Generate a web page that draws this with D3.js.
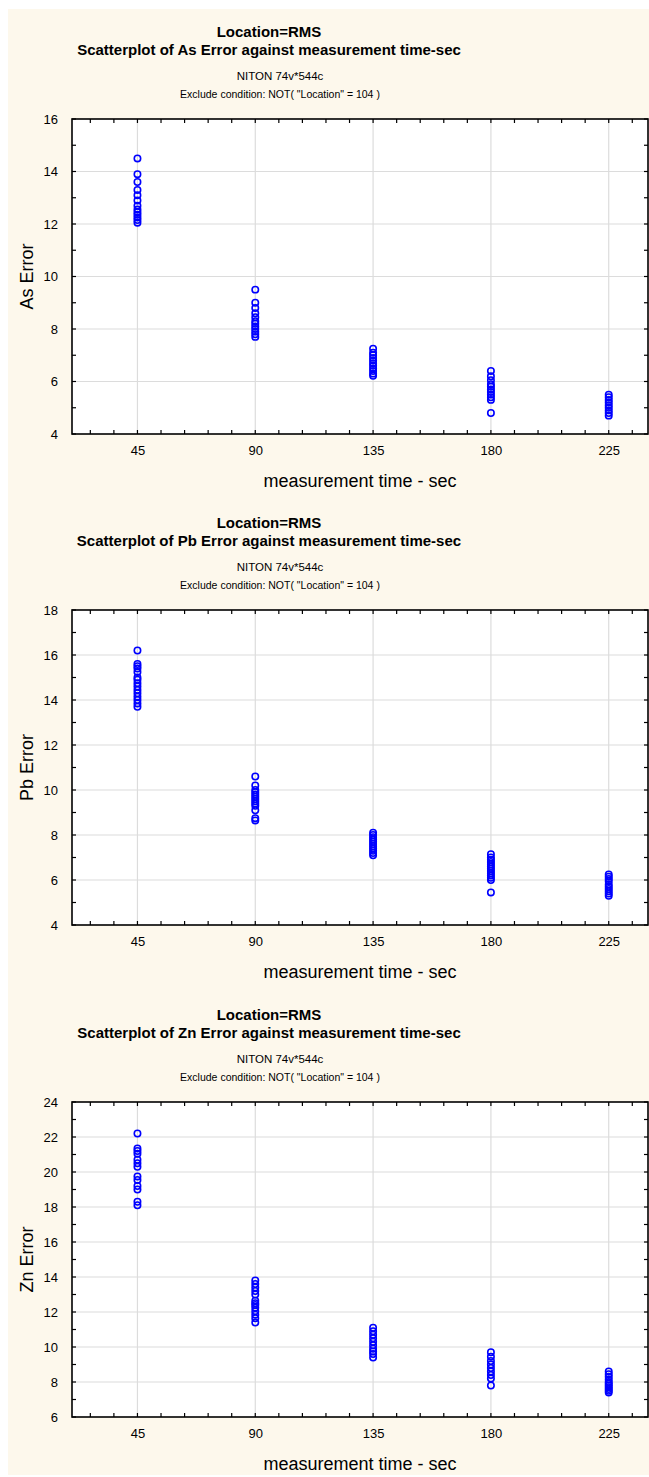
<!DOCTYPE html>
<html><head><meta charset="utf-8">
<script src="https://cdn.jsdelivr.net/npm/d3@7"></script>
<style>
html,body{margin:0;padding:0;background:#fff;}
svg{display:block;font-family:"Liberation Sans",Arial,sans-serif;}
</style></head>
<body>
<svg id="chart" width="649" height="1477"></svg>
<script>
// ---- data ----
const times = [45, 90, 135, 180, 225];
const xTickValues = [45, 90, 135, 180, 225];

const asError = [
  [14.5, 13.9, 13.6, 13.3, 13.1, 12.9, 12.7, 12.55, 12.45, 12.35, 12.25, 12.15, 12.05],
  [9.5, 9.0, 8.8, 8.6, 8.45, 8.3, 8.2, 8.1, 8.0, 7.9, 7.8, 7.7],
  [7.25, 7.1, 7.0, 6.9, 6.8, 6.7, 6.6, 6.5, 6.4, 6.3, 6.22],
  [6.4, 6.2, 6.05, 5.9, 5.8, 5.7, 5.6, 5.5, 5.4, 5.3, 4.8],
  [5.5, 5.4, 5.3, 5.2, 5.1, 5.0, 4.9, 4.8, 4.7]
];
const pbError = [
  [16.2, 15.6, 15.5, 15.4, 15.25, 15.0, 14.9, 14.75, 14.6, 14.45, 14.3, 14.15, 14.0, 13.85, 13.7],
  [10.6, 10.2, 10.0, 9.9, 9.8, 9.7, 9.6, 9.5, 9.4, 9.3, 9.1, 8.75, 8.65],
  [8.1, 8.0, 7.9, 7.8, 7.7, 7.6, 7.5, 7.4, 7.3, 7.2, 7.1],
  [7.15, 7.0, 6.9, 6.8, 6.7, 6.6, 6.5, 6.4, 6.3, 6.2, 6.1, 6.0, 5.45],
  [6.25, 6.15, 6.05, 5.95, 5.8, 5.7, 5.6, 5.5, 5.4, 5.3]
];
const znError = [
  [22.2, 21.35, 21.2, 21.05, 20.7, 20.5, 20.3, 19.75, 19.55, 19.2, 19.0, 18.3, 18.1],
  [13.8, 13.6, 13.4, 13.2, 13.0, 12.65, 12.5, 12.4, 12.25, 12.05, 11.85, 11.65, 11.4],
  [11.1, 10.9, 10.7, 10.5, 10.3, 10.1, 9.9, 9.75, 9.6, 9.4],
  [9.7, 9.45, 9.2, 9.0, 8.8, 8.6, 8.4, 8.2, 7.8],
  [8.6, 8.45, 8.3, 8.15, 8.0, 7.9, 7.8, 7.7, 7.6, 7.5, 7.4]
];

const panelNames = ["As", "Pb", "Zn"];
const panelValues = [asError, pbError, znError];
const yDomains = [[4, 16], [4, 18], [6, 24]];
const titleTop = "Location=RMS";
const subTitle1 = "NITON 74v*544c";
const subTitle2 = 'Exclude condition: NOT( "Location" = 104 )';
const xTitle = "measurement time - sec";

// ---- layout ----
const svg = d3.select("#chart");
svg.append("rect").attr("x", 8).attr("y", 9).attr("width", 641).attr("height", 1466).attr("fill", "#fdf8ec");

const plotLeft = 72, plotRight = 648;
const panelOffsets = [0, 491, 983];
const plotH = 315;
const titleX = 269, subX = 280;

panelNames.forEach((name, p) => {
  const off = panelOffsets[p];
  const top = 119 + off, bottom = top + plotH;
  const g = svg.append("g");

  const x = d3.scaleLinear().domain([20, 240]).range([plotLeft, plotRight]);
  const y = d3.scaleLinear().domain(yDomains[p]).range([bottom, top]);

  // titles
  g.append("text").attr("x", titleX).attr("y", 37 + off).attr("text-anchor", "middle")
    .attr("font-size", 15).attr("font-weight", "bold").text(titleTop);
  g.append("text").attr("x", titleX).attr("y", 55 + off).attr("text-anchor", "middle")
    .attr("font-size", 15).attr("font-weight", "bold")
    .text(`Scatterplot of ${name} Error against measurement time-sec`);
  g.append("text").attr("x", subX).attr("y", 80 + off).attr("text-anchor", "middle")
    .attr("font-size", 11.5).text(subTitle1);
  g.append("text").attr("x", subX).attr("y", 98 + off).attr("text-anchor", "middle")
    .attr("font-size", 10.5).text(subTitle2);

  // plot background
  g.append("rect").attr("x", plotLeft).attr("y", top).attr("width", plotRight - plotLeft)
    .attr("height", bottom - top).attr("fill", "#fff");

  const yMajor = d3.range(yDomains[p][0], yDomains[p][1] + 0.001, 2);
  const yMinor = d3.range(yDomains[p][0], yDomains[p][1] + 0.001, 1);
  const xMinor = d3.range(27, 240, 9);

  // grid
  g.append("g").selectAll("line").data(xTickValues).join("line")
    .attr("x1", d => x(d)).attr("x2", d => x(d)).attr("y1", top).attr("y2", bottom)
    .attr("stroke", "#dcdcdc").attr("stroke-width", 1.2);
  g.append("g").selectAll("line").data(yMajor.filter(v => v > yDomains[p][0] && v < yDomains[p][1])).join("line")
    .attr("x1", plotLeft).attr("x2", plotRight).attr("y1", d => y(d)).attr("y2", d => y(d))
    .attr("stroke", "#dcdcdc").attr("stroke-width", 1.2);

  // axes labels
  const bottomAxis = d3.axisBottom(x).tickValues(xTickValues).tickSize(0).tickPadding(12).tickFormat(d3.format("d"));
  const ax = g.append("g").attr("transform", `translate(0,${bottom})`).call(bottomAxis);
  ax.select(".domain").remove();
  ax.selectAll("text").attr("font-size", 13).attr("font-family", "Liberation Sans, Arial, sans-serif").attr("fill", "#000");

  const leftAxis = d3.axisLeft(y).tickValues(yMajor).tickSize(0).tickPadding(14).tickFormat(d3.format("d"));
  const ay = g.append("g").attr("transform", `translate(${plotLeft},0)`).call(leftAxis);
  ay.select(".domain").remove();
  ay.selectAll("text").attr("font-size", 13).attr("font-family", "Liberation Sans, Arial, sans-serif").attr("fill", "#000");

  // inward ticks on all four sides
  const tk = g.append("g").attr("stroke", "#000").attr("stroke-width", 1.2);
  tk.selectAll(".xb").data(xMinor).join("line").attr("class", "xb")
    .attr("x1", d => x(d)).attr("x2", d => x(d)).attr("y1", bottom).attr("y2", bottom - 4);
  tk.selectAll(".xt").data(xMinor).join("line").attr("class", "xt")
    .attr("x1", d => x(d)).attr("x2", d => x(d)).attr("y1", top).attr("y2", top + 4);
  tk.selectAll(".yl").data(yMinor).join("line").attr("class", "yl")
    .attr("x1", plotLeft).attr("x2", plotLeft + 4).attr("y1", d => y(d)).attr("y2", d => y(d));
  tk.selectAll(".yr").data(yMinor).join("line").attr("class", "yr")
    .attr("x1", plotRight).attr("x2", plotRight - 4).attr("y1", d => y(d)).attr("y2", d => y(d));
  // frame
  g.append("rect").attr("x", plotLeft).attr("y", top).attr("width", plotRight - plotLeft)
    .attr("height", bottom - top).attr("fill", "none").attr("stroke", "#000").attr("stroke-width", 1.6);

  // axis titles
  g.append("text").attr("x", (plotLeft + plotRight) / 2).attr("y", bottom + 53)
    .attr("text-anchor", "middle").attr("font-size", 18).text(xTitle);
  g.append("text").attr("transform", `translate(33,${(top + bottom) / 2}) rotate(-90)`)
    .attr("text-anchor", "middle").attr("font-size", 18).text(`${name} Error`);

  // points
  const pts = [];
  panelValues[p].forEach((vals, i) => vals.forEach(v => pts.push({t: times[i], v})));
  g.append("g").selectAll("circle").data(pts).join("circle")
    .attr("cx", d => x(d.t)).attr("cy", d => y(d.v)).attr("r", 3.2)
    .attr("fill", "none").attr("stroke", "#0000ff").attr("stroke-width", 1.6);
});
</script>
</body></html>
